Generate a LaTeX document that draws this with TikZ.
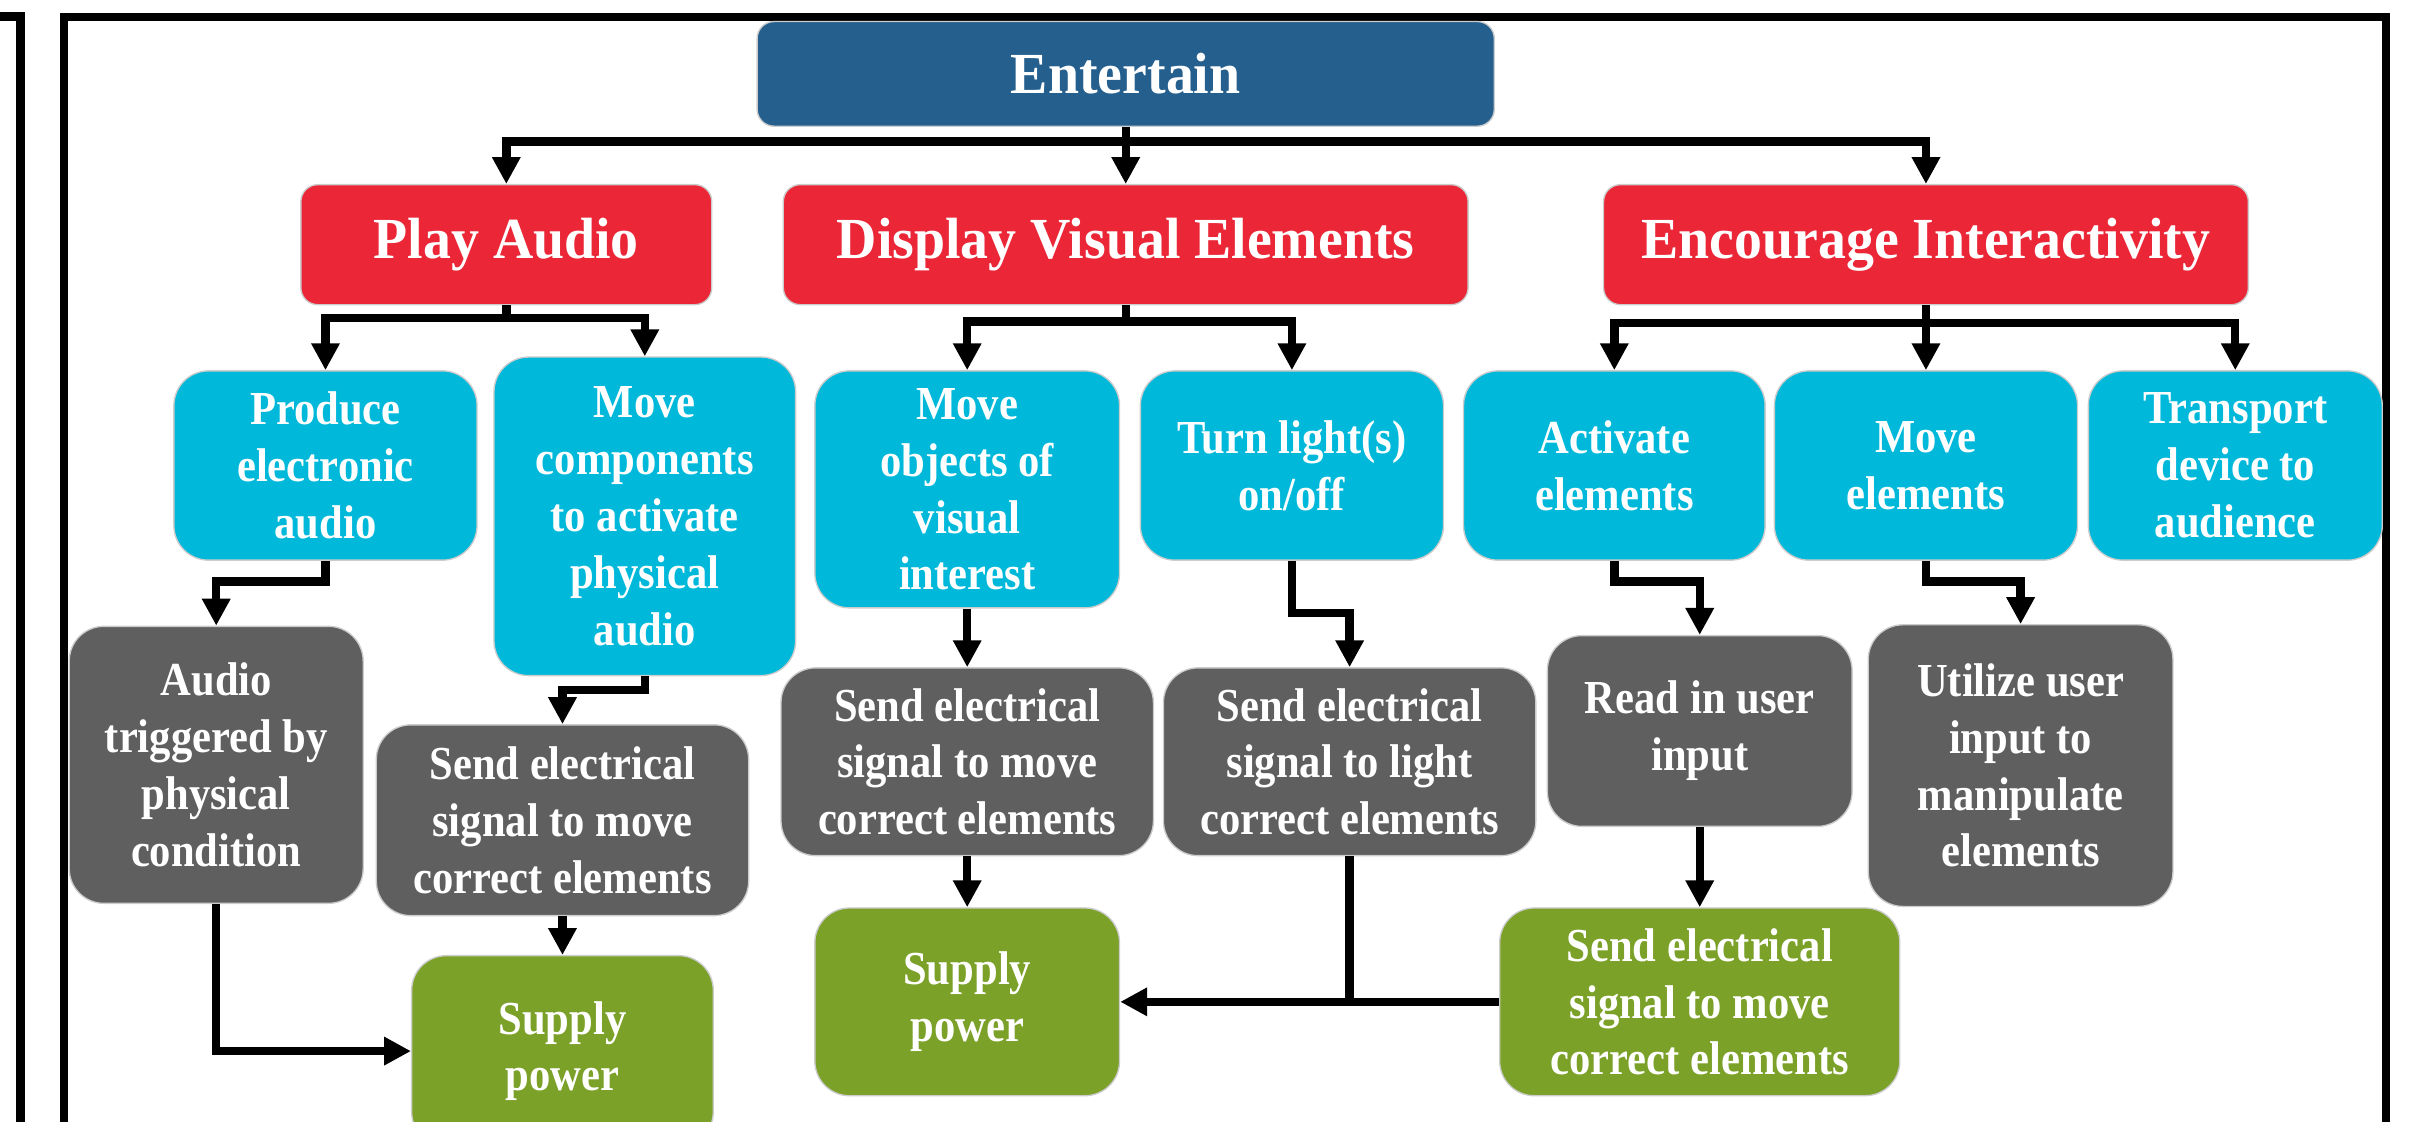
\documentclass[tikz,border=0pt]{standalone}
\usepackage{fontspec}
\setmainfont{Liberation Serif}
\newfontfamily\titlefont{Liberation Serif}[FakeStretch=0.96]
\newfontfamily\boxfont{Liberation Serif}[FakeStretch=0.9]
\usepackage{tikz}
\usetikzlibrary{arrows.meta}
\definecolor{entblue}{HTML}{245F8E}
\definecolor{mainred}{HTML}{EA2637}
\definecolor{subcyan}{HTML}{00B9DA}
\definecolor{stepgray}{HTML}{5F5F5F}
\definecolor{powgreen}{HTML}{7BA128}
\tikzstyle{arrow} = [-{Triangle[length=3.5mm,width=3.5mm]},line width=3.1pt]
\tikzstyle{link} = [line width=3.1pt]
\tikzstyle{frame} = [line width=2.8pt]
\tikzstyle{topbox} = [draw=gray!40,line width=0.5pt,rounded corners=2.2mm,text=white,font=\titlefont\fontsize{21.5}{24}\selectfont\bfseries,inner sep=2pt,minimum height=1.56cm]
\tikzstyle{task} = [draw=gray!40,line width=0.5pt,rounded corners=4.5mm,text=white,align=center,font=\boxfont\fontsize{17.5}{21}\selectfont\bfseries,inner sep=2pt]

\begin{document}
\begin{tikzpicture}
          \useasboundingbox (0,0) rectangle (31.36,-14.58);
          \draw[frame, line width=3.3pt] (0,-0.21) -- (0.27,-0.21) -- (0.27,-15);
          \draw[frame] (0.83,-15) -- (0.83,-0.22) -- (31.01,-0.22) -- (31.01,-15);

          \node[topbox, fill=entblue, minimum width=9.58cm, minimum height=1.36cm] at (14.63,-0.96) (ent) {Entertain};
          \node[topbox, fill=mainred, minimum width=5.34cm] at (6.58,-3.18) (play) {Play Audio};
          \node[topbox, fill=mainred, minimum width=8.9cm] at (14.63,-3.18) (disp) {Display Visual Elements};
          \node[topbox, fill=mainred, minimum width=8.38cm] at (25.03,-3.18) (enc) {Encourage Interactivity};

          \node[task, fill=subcyan, minimum width=3.94cm, minimum height=2.46cm] at (4.23,-6.05) (prod) {Produce\\ electronic\\ audio};
          \node[task, fill=subcyan, minimum width=3.92cm, minimum height=4.14cm] at (8.38,-6.71) (movec) {Move\\ components\\ to activate\\ physical\\ audio};
          \node[task, fill=subcyan, minimum width=3.96cm, minimum height=3.08cm] at (12.57,-6.36) (moveo) {Move\\ objects of\\ visual\\ interest};
          \node[task, fill=subcyan, minimum width=3.94cm, minimum height=2.46cm] at (16.79,-6.05) (turn) {Turn light(s)\\ on/off};
          \node[task, fill=subcyan, minimum width=3.92cm, minimum height=2.46cm] at (20.98,-6.05) (act) {Activate\\ elements};
          \node[task, fill=subcyan, minimum width=3.94cm, minimum height=2.46cm] at (25.03,-6.05) (movee) {Move\\ elements};
          \node[task, fill=subcyan, minimum width=3.82cm, minimum height=2.46cm] at (29.05,-6.05) (trans) {Transport\\ device to\\ audience};

          \node[task, fill=stepgray, minimum width=3.82cm, minimum height=3.6cm] at (2.81,-9.94) (trig) {Audio\\ triggered by\\ physical\\ condition};
          \node[task, fill=stepgray, minimum width=4.84cm, minimum height=2.48cm] at (7.31,-10.66) (senda) {Send electrical\\ signal to move\\ correct elements};
          \node[task, fill=stepgray, minimum width=4.84cm, minimum height=2.44cm] at (12.57,-9.9) (sendb) {Send electrical\\ signal to move\\ correct elements};
          \node[task, fill=stepgray, minimum width=4.84cm, minimum height=2.44cm] at (17.54,-9.9) (sendl) {Send electrical\\ signal to light\\ correct elements};
          \node[task, fill=stepgray, minimum width=3.96cm, minimum height=2.48cm] at (22.09,-9.5) (read) {Read in user\\ input};
          \node[task, fill=stepgray, minimum width=3.96cm, minimum height=3.66cm] at (26.26,-9.95) (util) {Utilize user\\ input to\\ manipulate\\ elements};

          \node[task, fill=powgreen, minimum width=3.92cm, minimum height=2.48cm] at (7.31,-13.66) (supa) {Supply\\ power};
          \node[task, fill=powgreen, minimum width=3.96cm, minimum height=2.44cm] at (12.57,-13.02) (supb) {Supply\\ power};
          \node[task, fill=powgreen, minimum width=5.2cm, minimum height=2.44cm] at (22.09,-13.02) (sendc) {Send electrical\\ signal to move\\ correct elements};

          \coordinate (ej) at (14.63,-1.84);
          \coordinate (pj) at (6.58,-4.13);
          \coordinate (dj) at (14.63,-4.18);
          \coordinate (nj) at (25.03,-4.2);

          \draw[arrow] (ent.south) -- (ej) -| (play.north);
          \draw[arrow] (ej) -- (disp.north);
          \draw[arrow] (ej) -| (enc.north);

          \draw[arrow] (play.south) -- (pj) -| (prod.north);
          \draw[arrow] (pj) -| (movec.north);
          \draw[arrow] (disp.south) -- (dj) -| (moveo.north);
          \draw[arrow] (dj) -| (turn.north);
          \draw[arrow] (enc.south) -- (nj) -| (act.north);
          \draw[arrow] (nj) -- (movee.north);
          \draw[arrow] (nj) -| (trans.north);

          \draw[arrow] (prod.south) -- ++(0,-0.27) -| (trig.north);
          \draw[arrow] (movec.south) -- ++(0,-0.18) -| (senda.north);
          \draw[arrow] (moveo.south) -- (sendb.north);
          \draw[arrow] (turn.south) -- ++(0,-0.68) -| (sendl.north);
          \draw[arrow] (act.south) -- ++(0,-0.27) -| (read.north);
          \draw[arrow] (movee.south) -- ++(0,-0.27) -| (util.north);

          \draw[arrow] (trig.south) |- (supa.west);
          \draw[arrow] (senda.south) -- (supa.north);
          \draw[arrow] (sendb.south) -- (supb.north);
          \draw[arrow] (read.south) -- (sendc.north);
          \draw[arrow] (sendc.west) -- (supb.east);
          \draw[link] (sendl.south) -- (sendl.south |- supb.east);
\end{tikzpicture}
\end{document}
